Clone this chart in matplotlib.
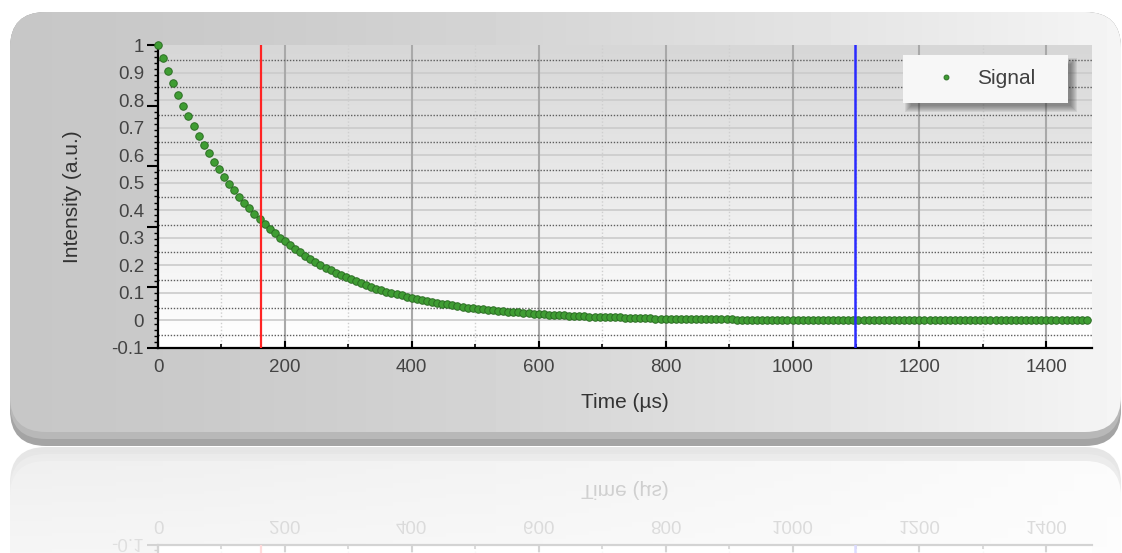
import numpy as np
import matplotlib.pyplot as plt
import matplotlib.transforms as mtransforms
from matplotlib.patches import FancyBboxPatch, Rectangle

plt.rcParams['font.family'] = ['Liberation Sans', 'DejaVu Sans']

# decay signal (time in µs, intensity in a.u.)
time_us = [
    0, 8, 16, 24, 32, 40, 48, 56, 64, 72,
    80, 88, 96, 104, 112, 120, 128, 136, 144, 152,
    160, 168, 176, 184, 192, 200, 208, 216, 224, 232,
    240, 248, 256, 264, 272, 280, 288, 296, 304, 312,
    320, 328, 336, 344, 352, 360, 368, 376, 384, 392,
    400, 408, 416, 424, 432, 440, 448, 456, 464, 472,
    480, 488, 496, 504, 512, 520, 528, 536, 544, 552,
    560, 568, 576, 584, 592, 600, 608, 616, 624, 632,
    640, 648, 656, 664, 672, 680, 688, 696, 704, 712,
    720, 728, 736, 744, 752, 760, 768, 776, 784, 792,
    800, 808, 816, 824, 832, 840, 848, 856, 864, 872,
    880, 888, 896, 904, 912, 920, 928, 936, 944, 952,
    960, 968, 976, 984, 992, 1000, 1008, 1016, 1024, 1032,
    1040, 1048, 1056, 1064, 1072, 1080, 1088, 1096, 1104, 1112,
    1120, 1128, 1136, 1144, 1152, 1160, 1168, 1176, 1184, 1192,
    1200, 1208, 1216, 1224, 1232, 1240, 1248, 1256, 1264, 1272,
    1280, 1288, 1296, 1304, 1312, 1320, 1328, 1336, 1344, 1352,
    1360, 1368, 1376, 1384, 1392, 1400, 1408, 1416, 1424, 1432,
    1440, 1448, 1456, 1464,
]
intensity = [
    1.000, 0.951, 0.905, 0.861, 0.819, 0.779, 0.741, 0.705, 0.670, 0.638,
    0.607, 0.577, 0.549, 0.522, 0.497, 0.472, 0.449, 0.427, 0.407, 0.387,
    0.368, 0.350, 0.333, 0.317, 0.301, 0.287, 0.273, 0.259, 0.247, 0.235,
    0.223, 0.212, 0.202, 0.192, 0.183, 0.174, 0.165, 0.157, 0.150, 0.142,
    0.135, 0.129, 0.122, 0.116, 0.111, 0.105, 0.100, 0.095, 0.091, 0.086,
    0.082, 0.078, 0.074, 0.071, 0.067, 0.064, 0.061, 0.058, 0.055, 0.052,
    0.050, 0.047, 0.045, 0.043, 0.041, 0.039, 0.037, 0.035, 0.033, 0.032,
    0.030, 0.029, 0.027, 0.026, 0.025, 0.024, 0.022, 0.021, 0.020, 0.019,
    0.018, 0.017, 0.017, 0.016, 0.015, 0.014, 0.014, 0.013, 0.012, 0.012,
    0.011, 0.011, 0.010, 0.010, 0.009, 0.009, 0.008, 0.008, 0.007, 0.007,
    0.007, 0.006, 0.006, 0.006, 0.006, 0.005, 0.005, 0.005, 0.004, 0.004,
    0.004, 0.004, 0.004, 0.004, 0.003, 0.003, 0.003, 0.003, 0.003, 0.003,
    0.002, 0.002, 0.002, 0.002, 0.002, 0.002, 0.002, 0.002, 0.002, 0.002,
    0.001, 0.001, 0.001, 0.001, 0.001, 0.001, 0.001, 0.001, 0.001, 0.001,
    0.001, 0.001, 0.001, 0.001, 0.001, 0.001, 0.001, 0.001, 0.001, 0.001,
    0.000, 0.000, 0.000, 0.000, 0.000, 0.000, 0.000, 0.000, 0.000, 0.000,
    0.000, 0.000, 0.000, 0.000, 0.000, 0.000, 0.000, 0.000, 0.000, 0.000,
    0.000, 0.000, 0.000, 0.000, 0.000, 0.000, 0.000, 0.000, 0.000, 0.000,
    0.000, 0.000, 0.000, 0.000,
]
red_cursor_us = 162
blue_cursor_us = 1098

x_ticks = [0, 200, 400, 600, 800, 1000, 1200, 1400]
x_minor = [100, 300, 500, 700, 900, 1100, 1300]
y_ticks = [1.0, 0.9, 0.8, 0.7, 0.6, 0.5, 0.4, 0.3, 0.2, 0.1, 0.0, -0.1]
y_tick_labels = ['1', '0.9', '0.8', '0.7', '0.6', '0.5', '0.4', '0.3', '0.2', '0.1', '0', '-0.1']

W, H = 1122, 553
fig = plt.figure(figsize=(W / 100, H / 100), dpi=100)
fig.patch.set_facecolor('white')

# pixel coords (y from top) -> figure
px = mtransforms.Affine2D().scale(1 / W, -1 / H).translate(0, 1) + fig.transFigure

# background panel
bg = fig.add_axes([0, 0, 1, 1])
bg.add_patch(FancyBboxPatch((10, 12), 1111, 434, boxstyle='round,pad=0,rounding_size=36',
                            facecolor='#a4a4a4', edgecolor='none', zorder=1))
bg.add_patch(FancyBboxPatch((10, 12), 1111, 427, boxstyle='round,pad=0,rounding_size=36',
                            facecolor='#b8b8b8', edgecolor='none', zorder=1))
panel = FancyBboxPatch((10, 12), 1111, 420, boxstyle='round,pad=0,rounding_size=36',
                       facecolor='none', edgecolor='none', zorder=1)
bg.add_patch(panel)
xs = np.linspace(0, 1, 300)
shade = 0.78 + 0.18 * xs ** 1.5
im = bg.imshow(np.tile(shade, (2, 1)), cmap='gray', vmin=0, vmax=1,
               extent=(10, 1121, 432, 12), aspect='auto', interpolation='bilinear', zorder=2)
im.set_clip_path(panel)
bg.set_xlim(0, W)
bg.set_ylim(H, 0)
bg.axis('off')

# plot area
ax = fig.add_axes([158 / W, 1 - 348 / H, 934 / W, 303 / H])
ax.patch.set_visible(False)
grad = np.linspace(0.84, 1.0, 100)[:, None]
ax.imshow(grad, cmap='gray', vmin=0, vmax=1, extent=(0, 1472, -0.1, 1.0),
          aspect='auto', zorder=0, interpolation='bilinear')

ax.hlines(y_ticks[1:-1], 0, 1472, colors='#cbcbcb', lw=1.2, zorder=1)
ax.hlines([v + 0.047 for v in y_ticks[1:]], 0, 1472, colors='#5e5e5e', lw=1.0,
          linestyles=(0, (1, 1.2)), zorder=1.2)
ax.vlines(x_ticks[1:], -0.1, 1.0, colors='#a9a9a9', lw=1.5, zorder=1.1)
ax.vlines(x_minor, -0.1, 1.0, colors='#cfcfcf', lw=1.0, linestyles=(0, (1, 1.5)), zorder=1.1)

sig, = ax.plot(time_us, intensity, 'o', ms=5.4, mfc='#3f9d33', mec='#2c6e24', mew=0.7,
               label='Signal', zorder=3, clip_on=False)
ax.axvline(red_cursor_us, color='#ff2424', lw=1.6, zorder=4)
ax.axvline(blue_cursor_us, color='#2b2bff', lw=1.8, zorder=4)

for s in ['top', 'right']:
    ax.spines[s].set_visible(False)
for s in ['left', 'bottom']:
    ax.spines[s].set_linewidth(1.6)
    ax.spines[s].set_color('black')

ax.set_xticks(x_ticks)
ax.set_xticks(x_minor, minor=True)
ax.tick_params(axis='x', which='major', direction='in', length=5, width=1.5,
               labelsize=13.5, labelcolor='#444444', pad=8)
ax.tick_params(axis='x', which='minor', direction='in', length=3, width=1.2)

ax.set_yticks(np.linspace(-0.1, 1.0, 6))
ax.set_yticks(np.linspace(-0.1, 1.0, 51), minor=True)
ax.tick_params(axis='y', which='major', direction='out', length=8, width=1.5, labelleft=False)
ax.tick_params(axis='y', which='minor', direction='out', length=3, width=1.0)
ax.set_xlim(0, 1472)
ax.set_ylim(-0.1, 1.0)

sec = ax.secondary_yaxis('left')
sec.set_yticks(y_ticks, y_tick_labels)
sec.tick_params(length=0, pad=10, labelsize=13.5, labelcolor='#444444')
sec.spines['left'].set_visible(False)

ax.set_xlabel('Time (µs)', fontsize=15, color='#333333', va='center')
ax.xaxis.set_label_coords(0.5, -(402 - 348) / 303)
ax.set_ylabel('Intensity (a.u.)', fontsize=15, color='#333333', va='center', ha='center')
ax.yaxis.set_label_coords((72 - 158) / 934, (348 - 197) / 303)

# legend box with soft shadow
for i in range(7):
    ax.add_patch(Rectangle((905 + i, 58 + i), 172 - 2 * i, 54 - 2 * i, transform=px,
                           facecolor='#303030', edgecolor='none', alpha=0.09,
                           zorder=5, clip_on=False))
ax.add_patch(Rectangle((903, 55), 165, 48, transform=px, facecolor='#f7f7f7',
                       edgecolor='none', zorder=6, clip_on=False))
leg = ax.legend(handles=[sig], loc='center', bbox_to_anchor=(985.5 / W, 1 - 79 / H),
                bbox_transform=fig.transFigure, frameon=False, fontsize=15,
                handlelength=1.0, handletextpad=1.0, markerscale=0.65)
leg.set_zorder(7)
for t in leg.get_texts():
    t.set_color('#404040')

# mirrored reflection under the panel
fig.canvas.draw()
buf = np.asarray(fig.canvas.buffer_rgba())[:, :, :3].astype(float) / 255
src = buf[340:446][::-1]
alpha = np.linspace(0.28, 0.16, src.shape[0])[:, None, None]
refl = 1 - alpha * (1 - src)
fig.figimage(refl, xo=0, yo=0, origin='upper', zorder=10)

fig.savefig('out.png', dpi=100)
